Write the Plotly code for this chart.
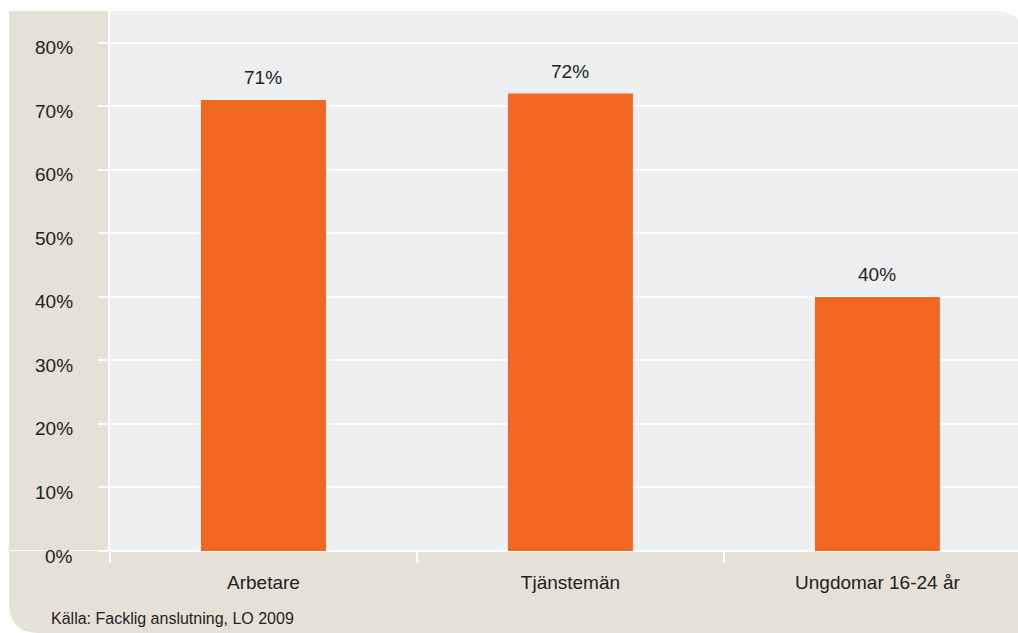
import plotly.graph_objects as go

categories = ["Arbetare", "Tjänstemän", "Ungdomar 16-24 år"]
values = [71, 72, 40]
y_ticks = [0, 10, 20, 30, 40, 50, 60, 70, 80]
y_tick_labels = [f"{t}%" for t in y_ticks]
source_text = "Källa: Facklig anslutning, LO 2009"

BEIGE = "#e5e1d7"
GRAY = "#eeeff1"
ORANGE = "#f26722"
TEXT = "#222222"
FONT = "Liberation Sans, Arial, sans-serif"

W, H = 1018, 633
L, R, T, B = 110, 0, 11, 82
PW = W - L - R
PH = H - T - B


def px_x(px):
    return (px - L) / PW


def px_y(py):
    return (H - B - py) / PH


def P(px, py):
    return f"{px_x(px):.5f},{px_y(py):.5f}"


gray_path = (f"M {P(110, 551)} L {P(110, 11)} L {P(990, 11)} Q {P(1030, 11)} {P(1030, 51)} "
             f"L {P(1030, 551)} Z")
beige_path = (f"M {P(9, 11)} L {P(990, 11)} Q {P(1030, 11)} {P(1030, 51)} L {P(1030, 640)} "
              f"L {P(39, 640)} L {P(39, 633)} Q {P(9, 633)} {P(9, 603)} Z")

fig = go.Figure()
fig.add_trace(go.Bar(
    x=categories, y=values, width=0.407,
    marker=dict(color=ORANGE, line=dict(width=0)),
    hoverinfo="skip",
))

annotations = [
    dict(x=c, y=v, xref="x", yref="y", text=f"{v}%", showarrow=False,
         yanchor="middle", yshift=22, font=dict(size=19, color=TEXT, family=FONT))
    for c, v in zip(categories, values)
]
annotations += [
    dict(x=px_x(75), y=t, xref="paper", yref="y", text=lab, showarrow=False,
         xanchor="right", yanchor="middle", yshift=-5,
         font=dict(size=19, color=TEXT, family=FONT))
    for t, lab in zip(y_ticks, y_tick_labels)
]
annotations.append(dict(x=px_x(49), y=px_y(618), xref="paper", yref="paper",
                        text=source_text, showarrow=False,
                        xanchor="left", yanchor="middle",
                        font=dict(size=16, color=TEXT, family=FONT)))

fig.update_layout(
    width=W, height=H,
    margin=dict(l=L, r=R, t=T, b=B, pad=0),
    paper_bgcolor="white",
    plot_bgcolor="rgba(0,0,0,0)",
    showlegend=False,
    font=dict(family=FONT, size=19, color=TEXT),
    shapes=[
        dict(type="path", path=beige_path, xref="paper", yref="paper",
             fillcolor=BEIGE, line=dict(width=0), layer="below"),
        dict(type="path", path=gray_path, xref="paper", yref="paper",
             fillcolor=GRAY, line=dict(width=0), layer="below"),
        dict(type="line", xref="paper", yref="y", x0=px_x(9), x1=0, y0=0, y1=0,
             line=dict(color="white", width=2), layer="below"),
    ],
    annotations=annotations,
    xaxis=dict(
        range=[-0.5, 2.458], showgrid=False, zeroline=False,
        tickson="boundaries", ticks="outside", ticklen=11, tickwidth=2,
        tickcolor="white", showline=False,
        tickfont=dict(size=19, color=TEXT, family=FONT),
        ticklabelstandoff=18, fixedrange=True,
    ),
    yaxis=dict(
        range=[0, 85], tickvals=y_ticks, showticklabels=False,
        showgrid=True, gridcolor="white", gridwidth=2,
        zeroline=True, zerolinecolor="white", zerolinewidth=2,
        showline=True, linecolor="white", linewidth=2,
        ticks="outside", ticklen=10, tickwidth=2, tickcolor="white",
        fixedrange=True,
    ),
)

fig.write_html("out.html", config={"displayModeBar": False},
               post_script="document.body.style.margin='0';document.body.style.overflow='hidden';")
